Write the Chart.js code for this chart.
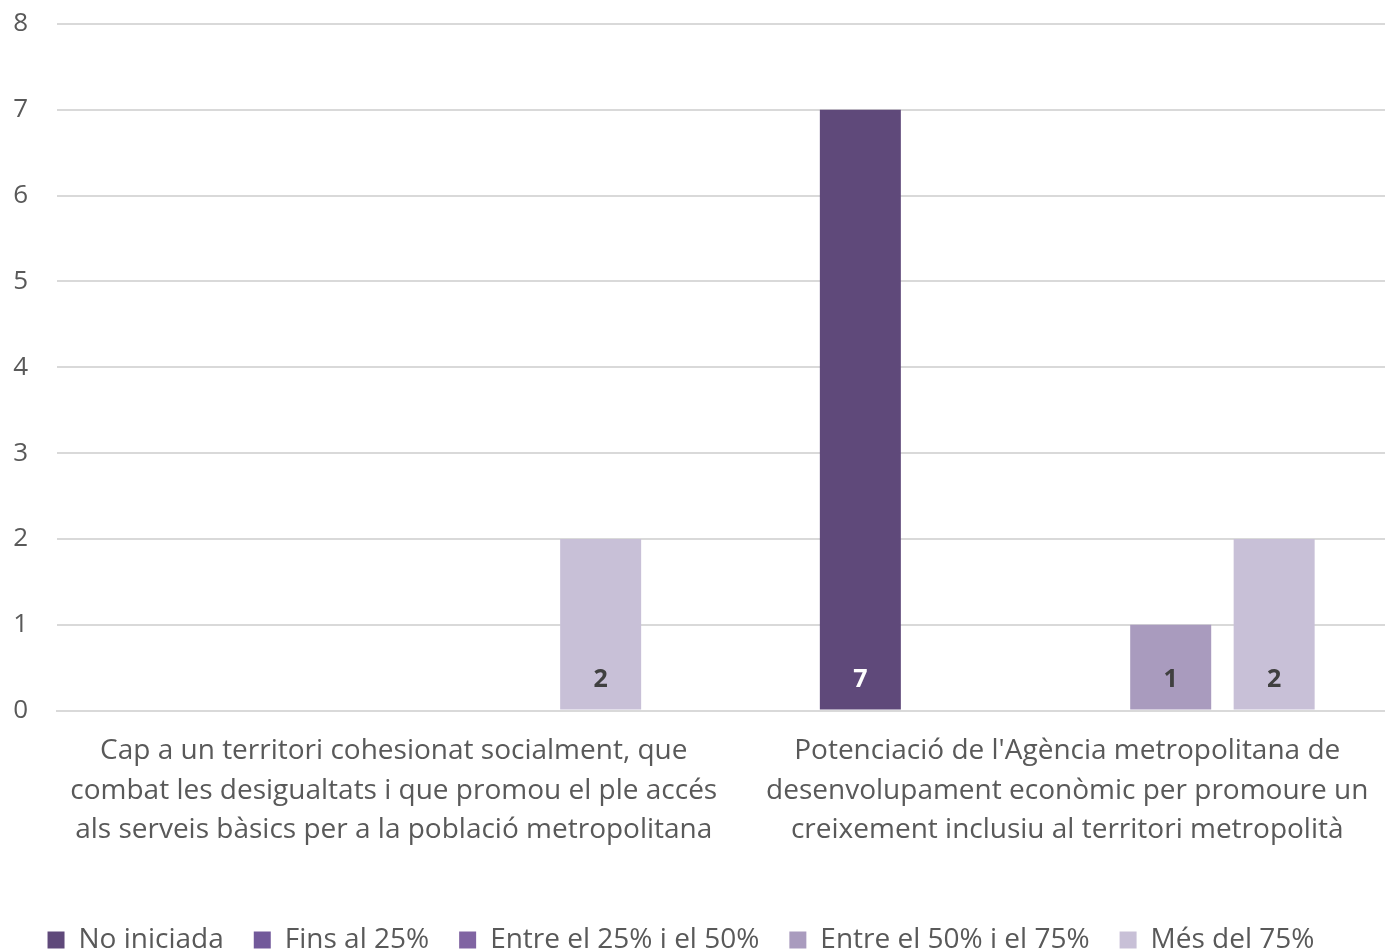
<!DOCTYPE html>
<html>
<head>
<meta charset="utf-8">
<script src="https://cdn.jsdelivr.net/npm/chart.js@4.4.1/dist/chart.umd.min.js"></script>
<style>
  html, body { margin: 0; padding: 0; background: #fff; overflow: hidden; }
  #wrap { width: 1404px; height: 964px; }
</style>
</head>
<body>
<div id="wrap"><canvas id="grafico" width="1404" height="964"></canvas></div>
<script>
const categorias = [
  ['Cap a un territori cohesionat socialment, que', 'combat les desigualtats i que promou el ple accés', 'als serveis bàsics per a la població metropolitana'],
  ["Potenciació de l'Agència metropolitana de", 'desenvolupament econòmic per promoure un', 'creixement inclusiu al territori metropolità']
];
const series = ['No iniciada', 'Fins al 25%', 'Entre el 25% i el 50%', 'Entre el 50% i el 75%', 'Més del 75%'];
const noIniciada = [0, 7];
const fins25 = [0, 0];
const entre25i50 = [0, 0];
const entre50i75 = [0, 1];
const mesDel75 = [2, 2];
const colors = ['#5f497a', '#72599a', '#8064a2', '#a99bbe', '#c8c0d7'];
const colorEtiqueta = ['#ffffff', '#ffffff', '#ffffff', '#404040', '#404040'];

const valors = [noIniciada, fins25, entre25i50, entre50i75, mesDel75];

// etiquetes de valor a la base de cada barra
const etiquetes = {
  id: 'etiquetes',
  afterDatasetsDraw(chart) {
    const ctx = chart.ctx;
    ctx.save();
    ctx.font = 'bold 25px "Open Sans"';
    ctx.textAlign = 'center';
    ctx.textBaseline = 'middle';
    chart.data.datasets.forEach((ds, i) => {
      chart.getDatasetMeta(i).data.forEach((bar, j) => {
        const v = ds.data[j];
        if (!v) return;
        ctx.fillStyle = colorEtiqueta[i];
        ctx.fillText(v, bar.x, bar.base - 30);
      });
    });
    ctx.restore();
  }
};

// desplaçar la llegenda cap a l'esquerra
const moureLlegenda = {
  id: 'moureLlegenda',
  afterLayout(chart) {
    chart.legend.left -= 27;
    chart.legend.right -= 27;
  }
};

const sensePadding = (scale) => {
  scale.paddingLeft = 0;
  scale.paddingRight = 0;
  scale.paddingTop = 0;
  scale.paddingBottom = 0;
};

new Chart(document.getElementById('grafico'), {
  type: 'bar',
  data: {
    labels: categorias,
    datasets: series.map((nom, i) => ({
      label: nom,
      data: valors[i],
      backgroundColor: colors[i],
      categoryPercentage: 0.768,
      barPercentage: 0.783
    }))
  },
  options: {
    responsive: false,
    animation: false,
    devicePixelRatio: 1,
    layout: { padding: { top: 24, left: 12, right: 0, bottom: 0 } },
    scales: {
      y: {
        min: 0,
        max: 8,
        afterFit: (scale) => { sensePadding(scale); scale.width = 45; },
        ticks: { stepSize: 1, padding: 29, color: '#595959', font: { family: '"Open Sans"', size: 26 } },
        grid: { color: '#d9d9d9', lineWidth: 2, drawTicks: false },
        border: { display: false }
      },
      x: {
        afterFit: (scale) => { sensePadding(scale); scale.height += 25; },
        ticks: { padding: 21, color: '#595959', font: { family: '"Open Sans"', size: 28, lineHeight: 1.41 }, maxRotation: 0, autoSkip: false },
        grid: { display: false, drawTicks: false },
        border: { color: '#d9d9d9', width: 2 }
      }
    },
    plugins: {
      legend: {
        position: 'bottom',
        labels: {
          boxWidth: 17,
          boxHeight: 17,
          padding: 30,
          color: '#595959',
          font: { family: '"Open Sans"', size: 28 }
        }
      },
      tooltip: { enabled: false }
    }
  },
  plugins: [etiquetes, moureLlegenda]
});
</script>
</body>
</html>
